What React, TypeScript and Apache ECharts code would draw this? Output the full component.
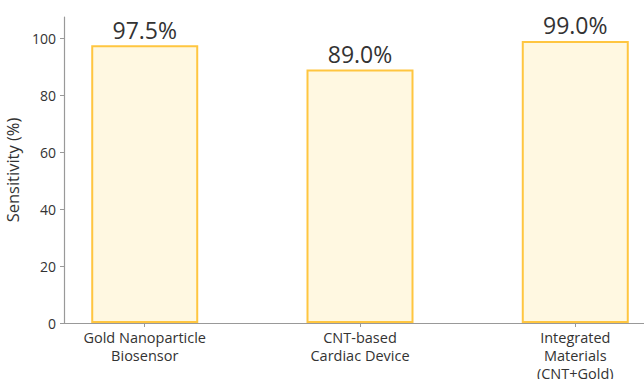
import React, { useEffect, useRef } from "react";
import * as echarts from "echarts";

const categories = ["Gold Nanoparticle\nBiosensor", "CNT-based\nCardiac Device", "Integrated\nMaterials\n(CNT+Gold)"];
const sensitivity = [97.5, 89.0, 99.0];
const yTicks = [0, 20, 40, 60, 80, 100];

export default function App() {
  const ref = useRef<HTMLDivElement>(null);
  useEffect(() => {
    document.body.style.margin = "0";
    const chart = echarts.init(ref.current!, null, { renderer: "svg" });
    const font = "'Open Sans', Roboto, sans-serif";
    chart.setOption({
      animation: false,
      grid: { left: 64, top: 17, width: 592, height: 306, containLabel: false, outerBoundsMode: "none" },
      xAxis: {
        type: "value",
        min: -0.375,
        max: 2.375,
        splitLine: { show: false },
        axisLine: { show: true, onZero: false, lineStyle: { color: "#999", width: 1.2 } },
        axisTick: { show: true, customValues: [0, 1, 2], length: 4, lineStyle: { color: "#999" } },
        axisLabel: {
          customValues: [0, 1, 2],
          formatter: (v: number) => categories[Math.round(v)] ?? "",
          color: "#333",
          fontSize: 14.5,
          lineHeight: 18,
          fontFamily: font,
          margin: 5,
          align: "center",
        },
      },
      yAxis: {
        type: "value",
        min: 0,
        max: 107.4,
        splitLine: { show: false },
        axisLine: { show: true, onZero: false, lineStyle: { color: "#999", width: 1.2 } },
        axisTick: { show: true, customValues: yTicks, length: 4, lineStyle: { color: "#999" } },
        axisLabel: {
          customValues: yTicks,
          color: "#333",
          fontSize: 14,
          fontFamily: font,
          margin: 8,
        },
        name: "Sensitivity (%)",
        nameLocation: "middle",
        nameRotate: 90,
        nameGap: 33,
        nameTextStyle: { color: "#333", fontSize: 16.5, fontFamily: font },
      },
      series: [
        {
          type: "bar",
          data: sensitivity.map((v, i) => [i, v]),
          barWidth: 107,
          itemStyle: { color: "#FFF8E1", borderColor: "#FFC640", borderWidth: 2 },
          label: {
            show: true,
            position: "top",
            distance: 4,
            formatter: (p: any) => p.value[1].toFixed(1) + "%",
            color: "#333",
            fontSize: 23,
            fontFamily: font,
          },
        },
      ],
    });
    return () => chart.dispose();
  }, []);
  return <div ref={ref} style={{ width: 644, height: 379, overflow: "hidden" }} />;
}
